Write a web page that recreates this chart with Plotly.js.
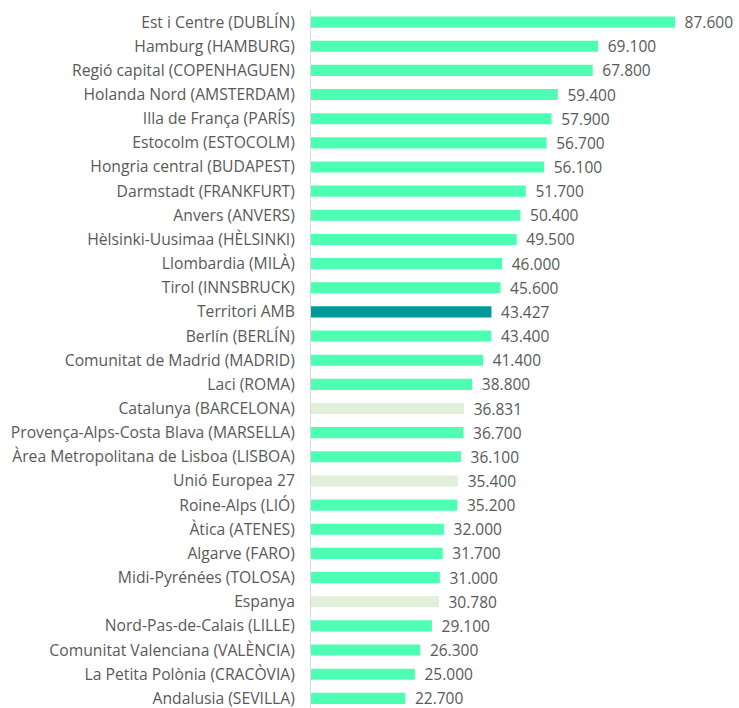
<!DOCTYPE html>
<html>
<head>
<meta charset="utf-8">
<script src="https://cdn.plot.ly/plotly-3.0.1.min.js"></script>
<style>html,body{margin:0;padding:0;background:#fff;}#chart{width:739px;height:708px;}</style>
</head>
<body>
<div id="chart"></div>
<script>
const categories = [
  "Est i Centre (DUBLÍN)",
  "Hamburg (HAMBURG)",
  "Regió capital (COPENHAGUEN)",
  "Holanda Nord (AMSTERDAM)",
  "Illa de França (PARÍS)",
  "Estocolm (ESTOCOLM)",
  "Hongria central (BUDAPEST)",
  "Darmstadt (FRANKFURT)",
  "Anvers (ANVERS)",
  "Hèlsinki-Uusimaa (HÈLSINKI)",
  "Llombardia (MILÀ)",
  "Tirol (INNSBRUCK)",
  "Territori AMB",
  "Berlín (BERLÍN)",
  "Comunitat de Madrid (MADRID)",
  "Laci (ROMA)",
  "Catalunya (BARCELONA)",
  "Provença-Alps-Costa Blava (MARSELLA)",
  "Àrea Metropolitana de Lisboa (LISBOA)",
  "Unió Europea 27",
  "Roine-Alps (LIÓ)",
  "Àtica (ATENES)",
  "Algarve (FARO)",
  "Midi-Pyrénées (TOLOSA)",
  "Espanya",
  "Nord-Pas-de-Calais (LILLE)",
  "Comunitat Valenciana (VALÈNCIA)",
  "La Petita Polònia (CRACÒVIA)",
  "Andalusia (SEVILLA)"
];
const values = [87600, 69100, 67800, 59400, 57900, 56700, 56100, 51700, 50400, 49500,
  46000, 45600, 43427, 43400, 41400, 38800, 36831, 36700, 36100, 35400,
  35200, 32000, 31700, 31000, 30780, 29100, 26300, 25000, 22700];
const highlight = ["Territori AMB"];
const reference = ["Catalunya (BARCELONA)", "Unió Europea 27", "Espanya"];

const colors = categories.map(c => highlight.includes(c) ? "#009999" : (reference.includes(c) ? "#e2efda" : "#4dffb3"));

const FONT = "Open Sans, sans-serif";

const trace = {
  type: "bar",
  orientation: "h",
  x: values,
  y: categories,
  width: 0.46,
  marker: {color: colors},
  texttemplate: "\u00a0\u2009%{x:,.0f}",
  textposition: "outside",
  constraintext: "none",
  cliponaxis: false,
  textfont: {family: FONT, size: 15.5, color: "#595959"},
  hoverinfo: "skip"
};

const layout = {
  width: 739, height: 708,
  margin: {l: 311, r: 0, t: 10, b: 0},
  paper_bgcolor: "#fff", plot_bgcolor: "#fff",
  separators: ",.",
  showlegend: false,
  font: {family: FONT, size: 15.5, color: "#595959"},
  xaxis: {range: [0, 103000], showgrid: false, zeroline: false, showticklabels: false, showline: false, fixedrange: true},
  yaxis: {
    type: "category",
    range: [28.4, -0.5],
    showgrid: false, zeroline: false,
    showline: true, linecolor: "#d9d9d9", linewidth: 1,
    ticks: "", ticklabelstandoff: 12,
    tickfont: {family: FONT, size: 15.7, color: "#595959"},
    fixedrange: true
  }
};

Plotly.newPlot("chart", [trace], layout, {displayModeBar: false, staticPlot: true});
</script>
</body>
</html>
